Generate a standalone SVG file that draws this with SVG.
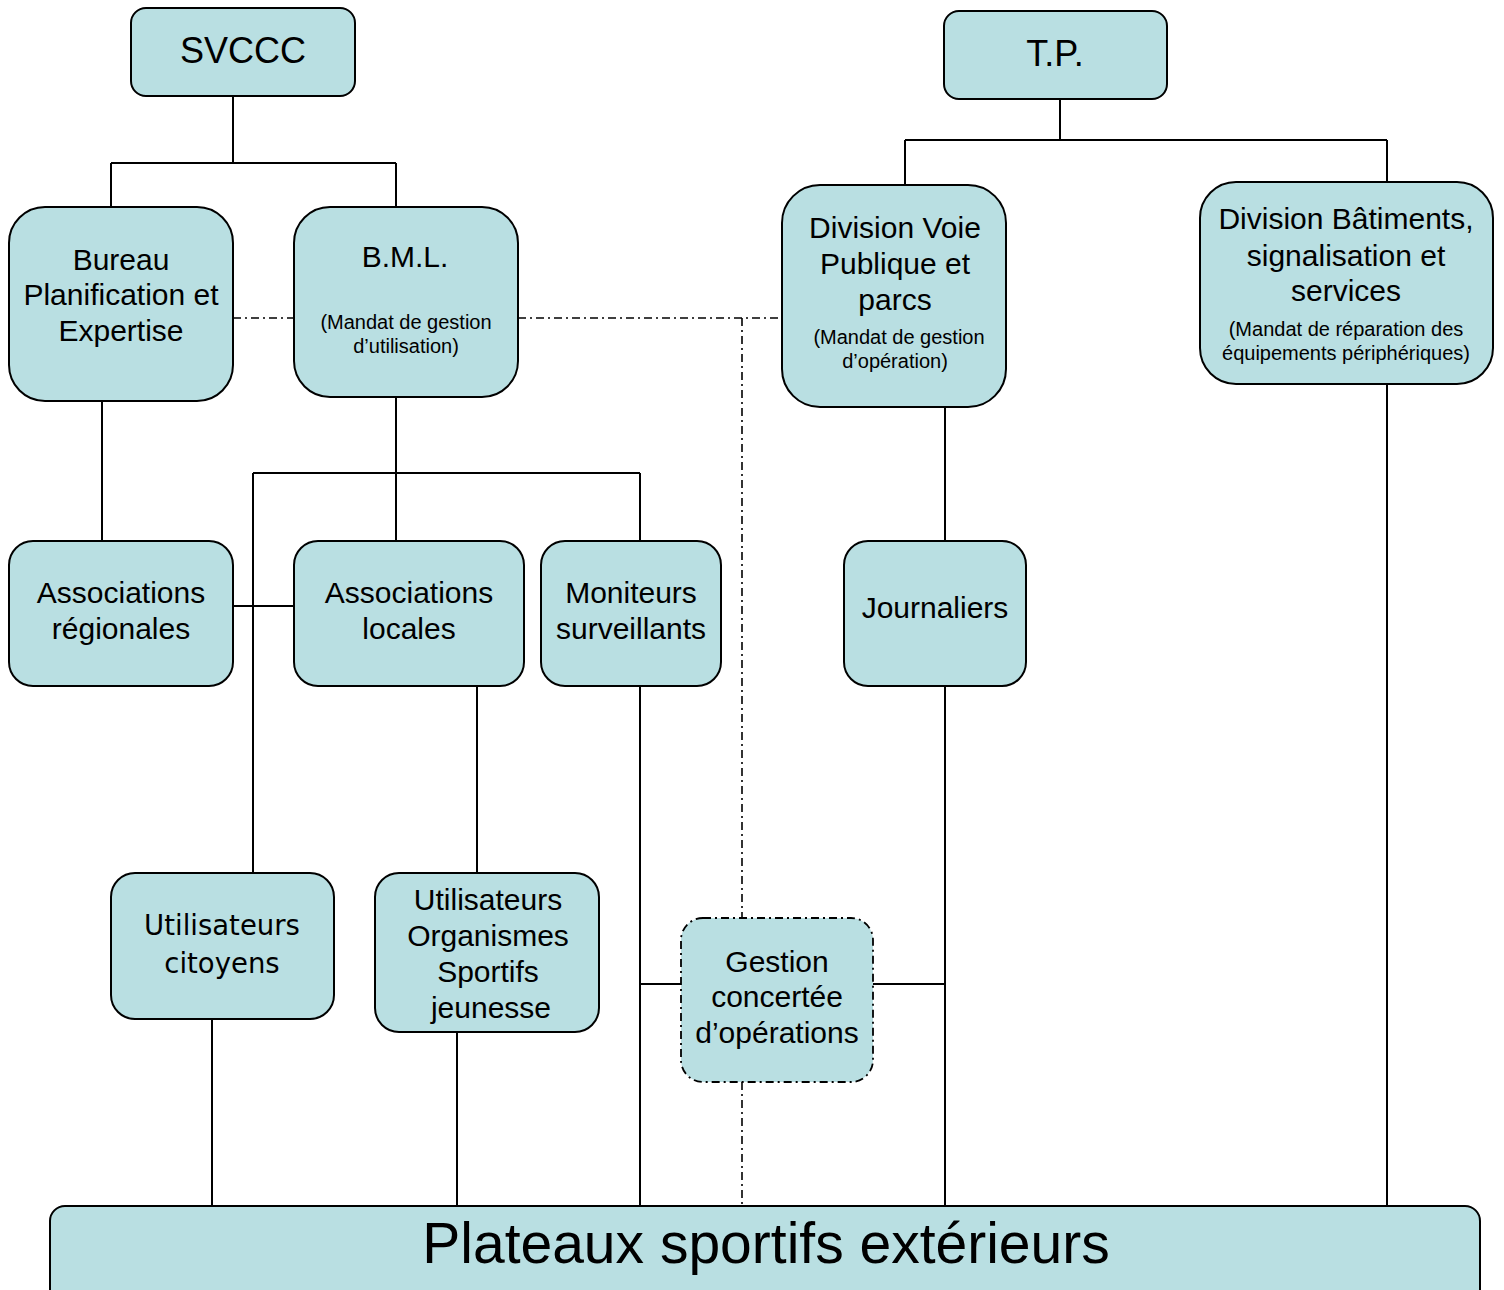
<svg xmlns="http://www.w3.org/2000/svg" width="1504" height="1290" viewBox="0 0 1504 1290">
<style>
.box{fill:#b9dfe2;stroke:#000;stroke-width:2}
.dbox{fill:#b9dfe2;stroke:#000;stroke-width:1.8;stroke-dasharray:8 4 2 4}
.ln{fill:none;stroke:#000;stroke-width:2}
.dl{fill:none;stroke:#000;stroke-width:1.6;stroke-dasharray:8 4 2 4}
text{font-family:"Liberation Sans",Arial,sans-serif;fill:#000;text-anchor:middle}
.t{font-size:30px}
.s{font-size:20px}
.v{font-family:"DejaVu Sans",Verdana,sans-serif;font-size:27.5px}
</style>
<rect width="1504" height="1290" fill="#fff"/>
<g id="connectors">
<path class="ln" d="M233 96V163M111 163H396M111 163V207M396 163V207"/>
<path class="ln" d="M1060 99V140M905 140H1387M905 140V185M1387 140V183"/>
<path class="ln" d="M102 401V541"/>
<path class="ln" d="M396 397V541M253 473H640M253 473V873M640 473V541"/>
<path class="ln" d="M233 606H294"/>
<path class="ln" d="M945 407V541M945 686V1206"/>
<path class="ln" d="M1387 384V1206"/>
<path class="ln" d="M477 686V873"/>
<path class="ln" d="M640 686V1206"/>
<path class="ln" d="M640 984H681M873 984H945"/>
<path class="ln" d="M212 1019V1206M457 1032V1206"/>
<path class="dl" d="M233 318H294M518 318H782M742 318V918M742 1082V1206"/>
</g>
<g id="svccc"><rect class="box" x="131" y="8" width="224" height="88" rx="15"/><text x="243" y="63" style="font-size:36px">SVCCC</text></g>
<g id="tp"><rect class="box" x="944" y="11" width="223" height="88" rx="15"/><text x="1055" y="66" style="font-size:36px">T.P.</text></g>
<g id="bureau"><rect class="box" x="9" y="207" width="224" height="194" rx="36"/><text class="t" x="121"><tspan x="121" y="270">Bureau</tspan><tspan x="121" y="305">Planification et</tspan><tspan x="121" y="341">Expertise</tspan></text></g>
<g id="bml"><rect class="box" x="294" y="207" width="224" height="190" rx="36"/><text class="t" x="405" y="267">B.M.L.</text><text class="s" x="406"><tspan x="406" y="329">(Mandat de gestion</tspan><tspan x="406" y="353">d’utilisation)</tspan></text></g>
<g id="voie"><rect class="box" x="782" y="185" width="224" height="222" rx="38"/><text class="t" x="895"><tspan x="895" y="238">Division Voie</tspan><tspan x="895" y="274">Publique et</tspan><tspan x="895" y="310">parcs</tspan></text><text class="s" x="899"><tspan x="899" y="344">(Mandat de gestion</tspan><tspan x="895" y="368">d’opération)</tspan></text></g>
<g id="batiments"><rect class="box" x="1200" y="182" width="293" height="202" rx="36"/><text class="t" x="1346"><tspan x="1346" y="229">Division Bâtiments,</tspan><tspan x="1346" y="266">signalisation et</tspan><tspan x="1346" y="301">services</tspan></text><text class="s" x="1346"><tspan x="1346" y="336">(Mandat de réparation des</tspan><tspan x="1346" y="360">équipements périphériques)</tspan></text></g>
<g id="assoreg"><rect class="box" x="9" y="541" width="224" height="145" rx="24"/><text class="t" x="121"><tspan x="121" y="603">Associations</tspan><tspan x="121" y="639">régionales</tspan></text></g>
<g id="assoloc"><rect class="box" x="294" y="541" width="230" height="145" rx="24"/><text class="t" x="409"><tspan x="409" y="603">Associations</tspan><tspan x="409" y="639">locales</tspan></text></g>
<g id="moniteurs"><rect class="box" x="541" y="541" width="180" height="145" rx="24"/><text class="t" x="631"><tspan x="631" y="603">Moniteurs</tspan><tspan x="631" y="639">surveillants</tspan></text></g>
<g id="journaliers"><rect class="box" x="844" y="541" width="182" height="145" rx="24"/><text class="t" x="935" y="618">Journaliers</text></g>
<g id="citoyens"><rect class="box" x="111" y="873" width="223" height="146" rx="24"/><text class="v" x="222"><tspan x="222" y="935">Utilisateurs</tspan><tspan x="222" y="973">citoyens</tspan></text></g>
<g id="organismes"><rect class="box" x="375" y="873" width="224" height="159" rx="24"/><text class="t" x="488"><tspan x="488" y="910">Utilisateurs</tspan><tspan x="488" y="946">Organismes</tspan><tspan x="488" y="982">Sportifs</tspan><tspan x="491" y="1018">jeunesse</tspan></text></g>
<g id="gestion"><rect class="dbox" x="681" y="918" width="192" height="164" rx="22"/><text class="t" x="777"><tspan x="777" y="972">Gestion</tspan><tspan x="777" y="1007">concertée</tspan><tspan x="777" y="1043">d’opérations</tspan></text></g>
<g id="plateaux"><rect class="box" x="50" y="1206" width="1430" height="110" rx="15"/><text x="766" y="1263" style="font-size:57px">Plateaux sportifs extérieurs</text></g>
</svg>
